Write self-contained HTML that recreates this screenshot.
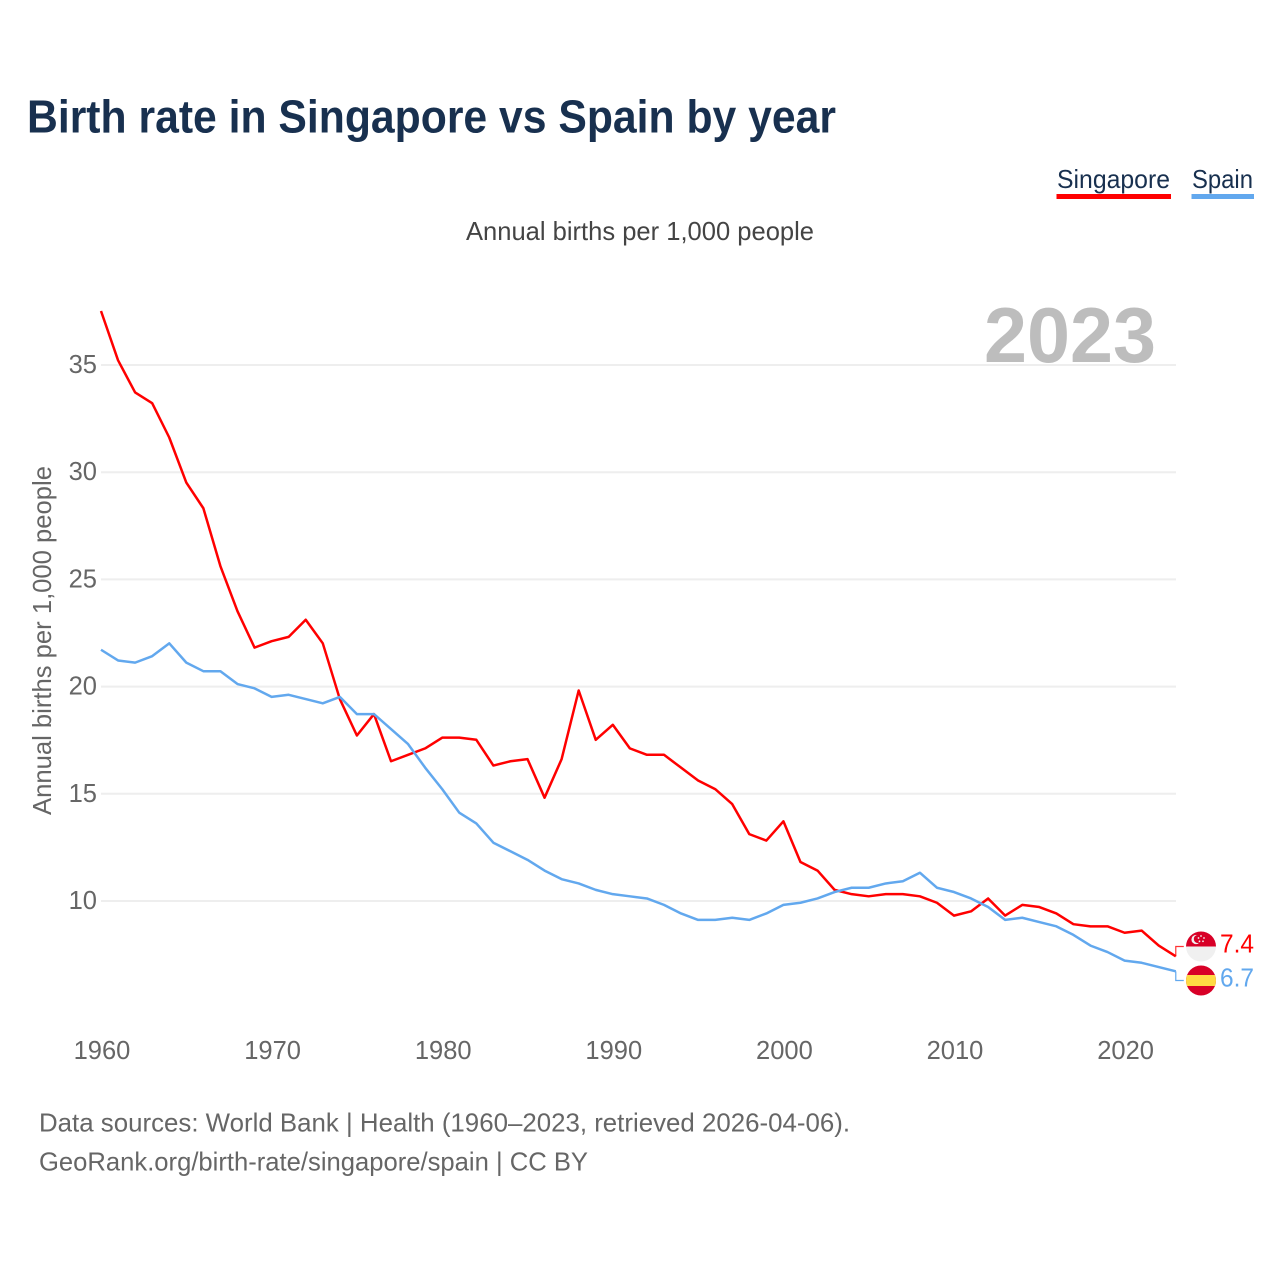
<!DOCTYPE html>
<html lang="en">
<head>
<meta charset="utf-8">
<title>Birth rate in Singapore vs Spain by year</title>
<style>
html,body{margin:0;padding:0;background:#fff;width:1280px;height:1280px;overflow:hidden}
svg{display:block;font-family:"Liberation Sans",sans-serif}
</style>
</head>
<body>
<svg id="chart" width="1280" height="1280" viewBox="0 0 1280 1280" xmlns="http://www.w3.org/2000/svg">
  <text x="27" y="132.5" font-size="46" font-weight="700" fill="#18304f" textLength="809" lengthAdjust="spacingAndGlyphs">Birth rate in Singapore vs Spain by year</text>

  <g>
    <text x="1057" y="188" font-size="26" fill="#18304f" textLength="113" lengthAdjust="spacingAndGlyphs">Singapore</text>
    <rect x="1056.5" y="194" width="114.5" height="5" fill="#ff0000"/>
  </g>
  <g>
    <text x="1192" y="188" font-size="26" fill="#18304f" textLength="61" lengthAdjust="spacingAndGlyphs">Spain</text>
    <rect x="1191.5" y="194" width="62.5" height="5" fill="#62a8ee"/>
  </g>

  <text x="466" y="240" font-size="26" fill="#444" textLength="348" lengthAdjust="spacingAndGlyphs">Annual births per 1,000 people</text>

  <g id="grid"></g>

  <text x="984" y="362" font-size="78" font-weight="700" fill="#bdbdbd" textLength="172" lengthAdjust="spacingAndGlyphs">2023</text>

  <g id="yticks"></g>
  <g id="xticks"></g>

  <text transform="translate(51 815) rotate(-90)" x="0" y="0" font-size="26" fill="#666" textLength="349" lengthAdjust="spacingAndGlyphs">Annual births per 1,000 people</text>

  <g id="series"></g>

  <defs>
    <clipPath id="flag-sg-clip"><circle cx="1201" cy="946.5" r="15"/></clipPath>
    <clipPath id="flag-es-clip"><circle cx="1201" cy="980.5" r="15"/></clipPath>
  </defs>

  <g clip-path="url(#flag-sg-clip)">
    <rect x="1186" y="931.5" width="30" height="15" fill="#d80027"/>
    <rect x="1186" y="946.5" width="30" height="15" fill="#f0f0f0"/>
    <circle cx="1196" cy="939.5" r="4.6" fill="#f0f0f0"/>
    <circle cx="1197.8" cy="939" r="4" fill="#d80027"/>
    <circle cx="1201" cy="936" r="0.9" fill="#f0f0f0"/>
    <circle cx="1204" cy="938" r="0.9" fill="#f0f0f0"/>
    <circle cx="1203" cy="941.3" r="0.9" fill="#f0f0f0"/>
    <circle cx="1199.5" cy="941.3" r="0.9" fill="#f0f0f0"/>
    <circle cx="1198.5" cy="938" r="0.9" fill="#f0f0f0"/>
  </g>
  <g clip-path="url(#flag-es-clip)">
    <rect x="1186" y="965.5" width="30" height="30" fill="#d80027"/>
    <rect x="1186" y="975" width="30" height="11" fill="#ffda44"/>
  </g>

  <text x="1220" y="952.5" font-size="25.5" fill="#ff0000" textLength="34" lengthAdjust="spacingAndGlyphs">7.4</text>
  <text x="1220" y="986.5" font-size="25.5" fill="#62a8ee" textLength="34" lengthAdjust="spacingAndGlyphs">6.7</text>

  <text x="39" y="1131.5" font-size="26" fill="#666" textLength="811" lengthAdjust="spacingAndGlyphs">Data sources: World Bank | Health (1960–2023, retrieved 2026-04-06).</text>
  <text x="39" y="1170.5" font-size="26" fill="#666" textLength="549" lengthAdjust="spacingAndGlyphs">GeoRank.org/birth-rate/singapore/spain | CC BY</text>
</svg>

<script>
var firstYear = 1960;
var singaporeValues = [37.5,35.2,33.7,33.2,31.6,29.5,28.3,25.6,23.5,21.8,22.1,22.3,23.1,22.0,19.4,17.7,18.7,16.5,16.8,17.1,17.6,17.6,17.5,16.3,16.5,16.6,14.8,16.6,19.8,17.5,18.2,17.1,16.8,16.8,16.2,15.6,15.2,14.5,13.1,12.8,13.7,11.8,11.4,10.5,10.3,10.2,10.3,10.3,10.2,9.9,9.3,9.5,10.1,9.3,9.8,9.7,9.4,8.9,8.8,8.8,8.5,8.6,7.9,7.4];
var spainValues = [21.7,21.2,21.1,21.4,22.0,21.1,20.7,20.7,20.1,19.9,19.5,19.6,19.4,19.2,19.5,18.7,18.7,18.0,17.3,16.2,15.2,14.1,13.6,12.7,12.3,11.9,11.4,11.0,10.8,10.5,10.3,10.2,10.1,9.8,9.4,9.1,9.1,9.2,9.1,9.4,9.8,9.9,10.1,10.4,10.6,10.6,10.8,10.9,11.3,10.6,10.4,10.1,9.7,9.1,9.2,9.0,8.8,8.4,7.9,7.6,7.2,7.1,6.9,6.7];
var yTickValues = [10,15,20,25,30,35];
var xTickValues = [1960,1970,1980,1990,2000,2010,2020];

var NS = 'http://www.w3.org/2000/svg';
function xScale(year) { return 101 + (year - 1960) * 17.06; }
function yScale(value) { return 901 - (value - 10) * 21.44; }

var gridGroup = document.getElementById('grid');
var yTickGroup = document.getElementById('yticks');
var xTickGroup = document.getElementById('xticks');
var seriesGroup = document.getElementById('series');

yTickValues.forEach(function (v) {
  var line = document.createElementNS(NS, 'line');
  
  
  line.setAttribute('x1', 101);
  line.setAttribute('x2', 1176);
  line.setAttribute('y1', yScale(v));
  line.setAttribute('y2', yScale(v));
  line.setAttribute('stroke', '#eeeeee');
  line.setAttribute('stroke-width', 2);
  gridGroup.appendChild(line);

  var label = document.createElementNS(NS, 'text');
  
  
  label.setAttribute('x', 97);
  label.setAttribute('y', yScale(v) + 8);
  label.setAttribute('text-anchor', 'end');
  label.setAttribute('font-size', 25.5);
  label.setAttribute('fill', '#666');
  label.textContent = v;
  yTickGroup.appendChild(label);
});

xTickValues.forEach(function (y) {
  var label = document.createElementNS(NS, 'text');
  
  
  label.setAttribute('x', xScale(y) + 1);
  label.setAttribute('y', 1059);
  label.setAttribute('text-anchor', 'middle');
  label.setAttribute('font-size', 25.5);
  label.setAttribute('fill', '#666');
  label.textContent = y;
  xTickGroup.appendChild(label);
});

function linePoints(values) {
  return values.map(function (v, i) {
    return xScale(firstYear + i).toFixed(2) + ',' + (yScale(v) - 0.4).toFixed(2);
  }).join(' ');
}

function connectorPoints(values, flagY) {
  var lastX = xScale(firstYear + values.length - 1);
  var lastY = yScale(values[values.length - 1]) - 0.4;
  return lastX + ',' + lastY + ' ' + lastX + ',' + flagY + ' ' + (lastX + 8) + ',' + flagY;
}

var spainLine = document.createElementNS(NS, 'polyline');


spainLine.setAttribute('points', linePoints(spainValues));
spainLine.setAttribute('fill', 'none');
spainLine.setAttribute('stroke', '#62a8ee');
spainLine.setAttribute('stroke-width', 2.5);
spainLine.setAttribute('stroke-linejoin', 'round');

var singaporeLine = document.createElementNS(NS, 'polyline');


singaporeLine.setAttribute('points', linePoints(singaporeValues));
singaporeLine.setAttribute('fill', 'none');
singaporeLine.setAttribute('stroke', '#ff0000');
singaporeLine.setAttribute('stroke-width', 2.5);
singaporeLine.setAttribute('stroke-linejoin', 'round');

var singaporeConnector = document.createElementNS(NS, 'polyline');


singaporeConnector.setAttribute('points', connectorPoints(singaporeValues, 946.5));
singaporeConnector.setAttribute('fill', 'none');
singaporeConnector.setAttribute('stroke', '#ff0000');
singaporeConnector.setAttribute('stroke-width', 1.2);
singaporeConnector.setAttribute('opacity', 0.8);

var spainConnector = document.createElementNS(NS, 'polyline');


spainConnector.setAttribute('points', connectorPoints(spainValues, 980.5));
spainConnector.setAttribute('fill', 'none');
spainConnector.setAttribute('stroke', '#62a8ee');
spainConnector.setAttribute('stroke-width', 1.2);

seriesGroup.appendChild(singaporeLine);
seriesGroup.appendChild(spainLine);
seriesGroup.appendChild(singaporeConnector);
seriesGroup.appendChild(spainConnector);
</script>
</body>
</html>
